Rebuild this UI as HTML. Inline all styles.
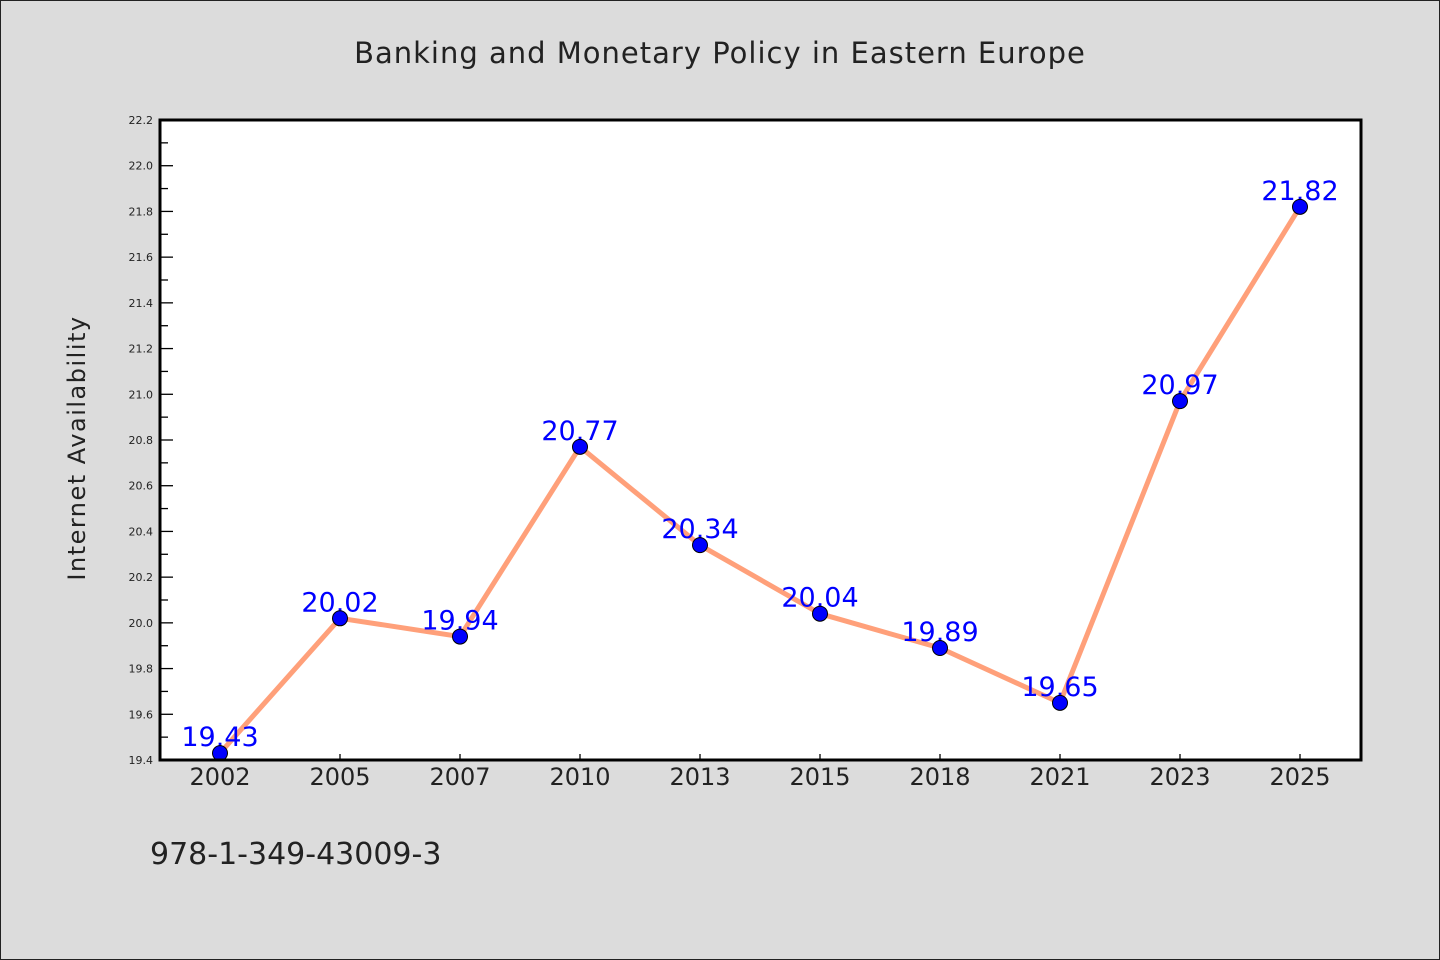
<!DOCTYPE html>
<html><head><meta charset="utf-8"><style>
html,body{margin:0;padding:0;background:#dcdcdc;}
svg{display:block;}
text{font-family:"WenQuanYi Zen Hei","DejaVu Sans","Liberation Sans",sans-serif;}
</style></head><body>
<svg id="chart" width="1440" height="960" viewBox="0 0 1440 960">
<rect x="0.5" y="0.5" width="1439" height="959" fill="#dcdcdc" stroke="#222"/>
<text x="720" y="63" text-anchor="middle" font-size="29" fill="#222" letter-spacing="1">Banking and Monetary Policy in Eastern Europe</text>
<rect x="160" y="120" width="1201" height="640" fill="#fff"/>
<g id="axes"></g>
<g id="marks"></g>
<rect x="160" y="120" width="1201" height="640" fill="none" stroke="#000" stroke-width="3"/>
<text transform="translate(85,448) rotate(-90)" text-anchor="middle" font-size="24" fill="#222" letter-spacing="1.5">Internet Availability</text>
<text x="150" y="864" font-size="30" fill="#222">978-1-349-43009-3</text>
</svg>
<script>
const categories=["2002","2005","2007","2010","2013","2015","2018","2021","2023","2025"];
const values=[19.43,20.02,19.94,20.77,20.34,20.04,19.89,19.65,20.97,21.82];
const yTicks=[19.4,19.6,19.8,20.0,20.2,20.4,20.6,20.8,21.0,21.2,21.4,21.6,21.8,22.0,22.2];
const yMin=19.4,yMax=22.2;
const NS="http://www.w3.org/2000/svg";
const X0=160,X1=1361,Y0=760,Y1=120;
function xPos(i){return 220+i*(1300-220)/(categories.length-1);}
function yPos(v){return Y0-(v-yMin)/(yMax-yMin)*(Y0-Y1);}
function mk(tag,attrs,parent){const e=document.createElementNS(NS,tag);for(const k in attrs)e.setAttribute(k,attrs[k]);parent.appendChild(e);return e;}
const axes=document.getElementById('axes'),marks=document.getElementById('marks');
yTicks.forEach((t,i)=>{
  const y=yPos(t);
  const tk=mk('line',{x1:X0,x2:X0+13,y1:y,y2:y,stroke:'#000','stroke-width':1.3},axes);
  
  
  const lb=mk('text',{x:153,y:y+4,'text-anchor':'end','font-size':11,fill:'#222'},axes);
  
  
  lb.textContent=t.toFixed(1);
  if(i<yTicks.length-1){
    const ym=yPos(t+0.1);
    const mn=mk('line',{x1:X0,x2:X0+8,y1:ym,y2:ym,stroke:'#000','stroke-width':1.3},axes);
    
    
  }
});
categories.forEach((c,i)=>{
  const x=xPos(i);
  const tk=mk('line',{x1:x,x2:x,y1:Y0,y2:Y0-6,stroke:'#000','stroke-width':1.3},axes);
  
  
  const lb=mk('text',{x:x,y:785,'text-anchor':'middle','font-size':24,fill:'#222'},axes);
  
  
  lb.textContent=c;
});
const pts=values.map((v,i)=>xPos(i)+','+yPos(v)).join(' ');
const line=mk('polyline',{points:pts,fill:'none',stroke:'#ffa07a','stroke-width':5,'stroke-linejoin':'round'},marks);


values.forEach((v,i)=>{
  const x=xPos(i),y=yPos(v);
  const lb=mk('text',{x:x,y:y-7,'text-anchor':'middle','font-size':27,fill:'#0000ff'},marks);
  
  
  lb.textContent=v.toFixed(2);
});
values.forEach((v,i)=>{
  const c=mk('circle',{cx:xPos(i),cy:yPos(v),r:7.5,fill:'#0000ff',stroke:'#000','stroke-width':1},marks);
  
  
});
</script>
</body></html>
